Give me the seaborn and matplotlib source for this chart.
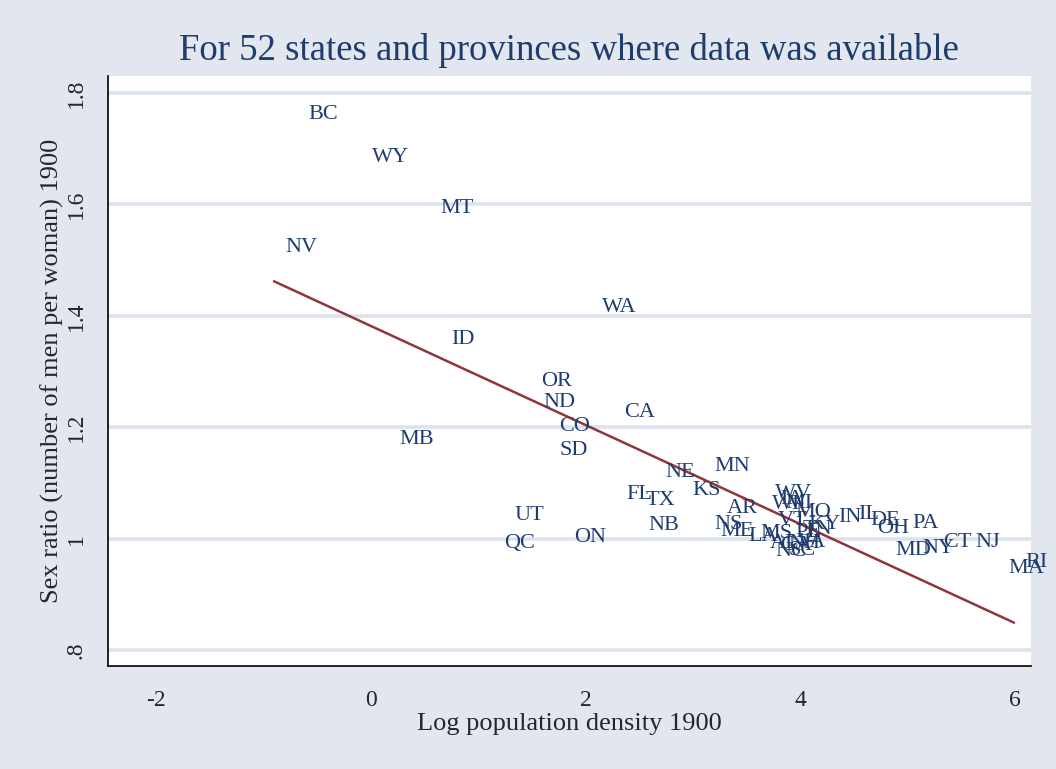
import matplotlib
matplotlib.use("Agg")
import matplotlib.pyplot as plt
import seaborn as sns
import pandas as pd

# labels, log density (1900) and sex ratio (men per woman, 1900)
states = ["BC", "WY", "MT", "NV", "WA", "ID", "OR", "ND", "CA", "CO",
          "MB", "SD", "MN", "NE", "KS", "FL", "TX", "AR", "UT", "NB",
          "NS", "ME", "ON", "QC", "LA", "MS", "PE", "TN", "AL", "GA",
          "VA", "NH", "NC", "SC", "WV", "IA", "WI", "MI", "MO", "VT",
          "KY", "IN", "IL", "DE", "OH", "PA", "MD", "NY", "CT", "NJ",
          "MA", "RI"]
log_density = [-0.690, -0.093, 0.541, -0.904, 2.050, 0.643, 1.482, 1.500, 2.255, 1.650,
               0.158, 1.650, 3.094, 2.637, 2.889, 2.274, 2.451, 3.215, 1.230, 2.479,
               3.094, 3.150, 1.789, 1.137, 3.411, 3.523, 3.849, 3.914, 3.616, 3.709,
               3.868, 3.784, 3.663, 3.784, 3.663, 3.709, 3.635, 3.756, 3.849, 3.691,
               3.970, 4.250, 4.436, 4.548, 4.613, 4.939, 4.781, 5.033, 5.228, 5.527,
               5.834, 5.993]
sex_ratio = [1.765, 1.688, 1.596, 1.526, 1.417, 1.361, 1.285, 1.248, 1.230, 1.205,
             1.181, 1.162, 1.133, 1.122, 1.090, 1.083, 1.072, 1.057, 1.045, 1.027,
             1.029, 1.016, 1.005, 0.995, 1.007, 1.013, 1.014, 1.020, 0.995, 0.991,
             0.996, 0.995, 0.980, 0.982, 1.084, 1.074, 1.065, 1.066, 1.050, 1.036,
             1.029, 1.041, 1.047, 1.036, 1.022, 1.031, 0.982, 0.986, 0.996, 0.996,
             0.950, 0.961]

x_ticks = [-2, 0, 2, 4, 6]
y_ticks = [0.8, 1.0, 1.2, 1.4, 1.6, 1.8]
y_tick_labels = [".8", "1", "1.2", "1.4", "1.6", "1.8"]

bg = "#E1E6EF"
navy = "#1F3C6E"
maroon = "#90353B"

sns.set_style("white", {"axes.facecolor": "white", "figure.facecolor": bg})
plt.rcParams["font.family"] = ["Liberation Serif", "DejaVu Serif"]

df = pd.DataFrame({"state": states, "logdens": log_density, "ratio": sex_ratio})

fig = plt.figure(figsize=(10.56, 7.69), dpi=100)
ax = fig.add_axes([0.1020, 0.1339, 0.8743, 0.7673])

for y in y_ticks:
    ax.axhline(y, color="#DCE3EE", lw=2.6, zorder=0)

sns.regplot(data=df, x="logdens", y="ratio", scatter=False, ci=None, ax=ax,
            line_kws={"color": maroon, "lw": 1.8})

for s, x, y in zip(states, log_density, sex_ratio):
    ax.annotate(s, (x, y), xytext=(8, -1.2), textcoords="offset points",
                ha="left", va="center", fontsize=16, color=navy,
                annotation_clip=False, clip_on=False)

ax.set_xlim(-2.454, 6.151)
ax.set_ylim(0.7713, 1.8305)
ax.set_xticks(x_ticks)
ax.set_xticklabels([str(t) for t in x_ticks])
ax.set_yticks(y_ticks)
ax.set_yticklabels(y_tick_labels, rotation=90, va="center")
ax.tick_params(axis="both", direction="out", length=8, width=1.0, color="black",
               labelsize=17, pad=6)
ax.tick_params(axis="x", pad=9)
ax.tick_params(axis="y", pad=7)

for side in ["top", "right"]:
    ax.spines[side].set_visible(False)
for side in ["left", "bottom"]:
    ax.spines[side].set_color("black")
    ax.spines[side].set_linewidth(1.2)

ax.set_xlabel("Log population density 1900", fontsize=19, labelpad=2)
ax.set_ylabel("Sex ratio (number of men per woman) 1900", fontsize=19, labelpad=1)
fig.suptitle("For 52 states and provinces where data was available",
             fontsize=26.5, color=navy, x=0.539, y=0.957)

fig.savefig("out.png", dpi=100, facecolor=bg)
